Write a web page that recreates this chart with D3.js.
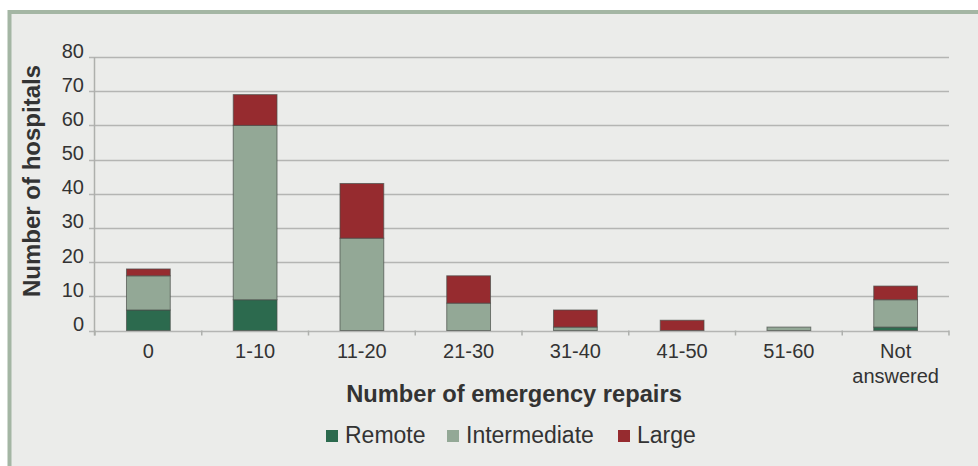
<!DOCTYPE html>
<html>
<head>
<meta charset="utf-8">
<script src="https://cdn.jsdelivr.net/npm/d3@7"></script>
<style>
  body { margin: 0; background: #fff; }
  text { font-family: Arial, "Liberation Sans", sans-serif; fill: #333; }
</style>
</head>
<body>
<svg></svg>
<script>
// categories and series values (number of hospitals)
var categories = ["0", "1-10", "11-20", "21-30", "31-40", "41-50", "51-60", "Not answered"];
var remote       = [6, 9, 0, 0, 0, 0, 0, 1];
var intermediate = [10, 51, 27, 8, 1, 0, 1, 8];
var large        = [2, 9, 16, 8, 5, 3, 0, 4];
var seriesNames = ["Remote", "Intermediate", "Large"];
var yTicks = [0, 10, 20, 30, 40, 50, 60, 70, 80];

var colors = {Remote: "#2c6a4e", Intermediate: "#93a896", Large: "#962b2f"};

var W = 978, H = 466;
var svg = d3.select("svg").attr("width", W).attr("height", H);

// panel with the green-grey frame
svg.append("rect")
    .attr("x", 9.5).attr("y", 12)
    .attr("width", W + 20).attr("height", H + 20)
    .attr("fill", "#ebecea")
    .attr("stroke", "#a4b6a4")
    .attr("stroke-width", 4);

var plotLeft = 95, plotRight = 949, plotTop = 57, plotBottom = 330.5;

var x = d3.scaleBand()
    .domain(categories)
    .range([plotLeft, plotRight])
    .paddingInner(0.59)
    .paddingOuter(0.295);

var y = d3.scaleLinear()
    .domain([0, 80])
    .range([plotBottom, plotTop]);

// table for the stack
var table = categories.map(function(c, i) {
  return {cat: c, Remote: remote[i], Intermediate: intermediate[i], Large: large[i]};
});
var stacked = d3.stack().keys(seriesNames)(table);

// gridlines
svg.append("g")
  .selectAll("line")
  .data(yTicks)
  .enter().append("line")
    .attr("x1", plotLeft - 6).attr("x2", plotRight)
    .attr("y1", function(d) { return Math.round(y(d)) + 0.5; })
    .attr("y2", function(d) { return Math.round(y(d)) + 0.5; })
    .attr("stroke", "#b4b5b3")
    .attr("stroke-width", 1.5);

// y tick labels
svg.append("g")
  .selectAll("text")
  .data(yTicks)
  .enter().append("text")
    .attr("x", 84)
    .attr("y", function(d) { return y(d) + 0.5; })
    .attr("text-anchor", "end")
    .style("font-size", "20px")
    .text(function(d) { return d; });

// y axis line
svg.append("line")
    .attr("x1", plotLeft - 0.5).attr("x2", plotLeft - 0.5)
    .attr("y1", plotTop).attr("y2", plotBottom + 5)
    .attr("stroke", "#aeb0ad").attr("stroke-width", 1.5);

// x ticks at band edges
var edges = categories.map(function(c) { return x(c) - x.step() * x.paddingInner() / 2; });
edges.push(plotRight);
svg.append("g")
  .selectAll("line")
  .data(edges)
  .enter().append("line")
    .attr("x1", function(d) { return d; }).attr("x2", function(d) { return d; })
    .attr("y1", plotBottom).attr("y2", plotBottom + 5)
    .attr("stroke", "#aeb0ad").attr("stroke-width", 1.5);

// bars
svg.append("g")
  .selectAll("g")
  .data(stacked)
  .enter().append("g")
    .attr("fill", function(d) { return colors[d.key]; })
  .selectAll("rect")
  .data(function(d) { return d.filter(function(p) { return p[1] > p[0]; }); })
  .enter().append("rect")
    .attr("x", function(d) { return x(d.data.cat); })
    .attr("width", x.bandwidth())
    .attr("y", function(d) { return y(d[1]); })
    .attr("height", function(d) { return y(d[0]) - y(d[1]); })
    .attr("stroke", "#4a4f4a")
    .attr("stroke-opacity", 0.7)
    .attr("stroke-width", 1);

// x tick labels
var xl = svg.append("g")
  .selectAll("text")
  .data(categories)
  .enter().append("text")
    .attr("x", function(d) { return x(d) + x.bandwidth() / 2; })
    .attr("y", 358)
    .attr("text-anchor", "middle")
    .style("font-size", "20px");
xl.each(function(d) {
  var parts = d === "Not answered" ? ["Not", "answered"] : [d];
  var t = d3.select(this);
  parts.forEach(function(p, i) {
    t.append("tspan")
      .attr("x", x(d) + x.bandwidth() / 2)
      .attr("dy", i ? 25 : 0)
      .text(p);
  });
});

// axis titles
svg.append("text")
    .attr("x", 514).attr("y", 402)
    .attr("text-anchor", "middle")
    .style("font-size", "23.7px").style("font-weight", "bold")
    .text("Number of emergency repairs");

svg.append("text")
    .attr("transform", "translate(40,181) rotate(-90)")
    .attr("text-anchor", "middle")
    .style("font-size", "24px").style("font-weight", "bold")
    .text("Number of hospitals");

// legend
var legendX = [326, 447, 618];
var lg = svg.append("g")
  .selectAll("g")
  .data(seriesNames)
  .enter().append("g")
    .attr("transform", function(d, i) { return "translate(" + legendX[i] + ",430)"; });
lg.append("rect")
    .attr("width", 12).attr("height", 12)
    .attr("fill", function(d) { return colors[d]; });
lg.append("text")
    .attr("x", 19).attr("y", 13)
    .style("font-size", "23px")
    .text(function(d) { return d; });
</script>
</body>
</html>
